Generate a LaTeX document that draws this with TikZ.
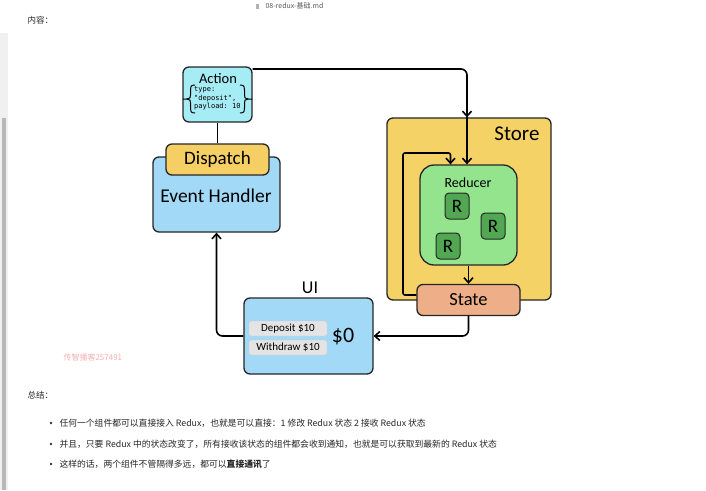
\documentclass[tikz,border=0pt]{standalone}
\usepackage{fontspec}
\setmainfont{Carlito}
\setmonofont{DejaVu Sans Mono}
\newfontfamily\cjk{Noto Sans CJK SC}
\usetikzlibrary{calc,arrows.meta}
\definecolor{actionfill}{HTML}{A6ECF5}
\definecolor{dispfill}{HTML}{F5CF63}
\definecolor{evfill}{HTML}{A2D9F7}
\definecolor{storefill}{HTML}{F5D266}
\definecolor{redfill}{HTML}{93E48D}
\definecolor{rfill}{HTML}{52A852}
\definecolor{statefill}{HTML}{EEAF88}
\definecolor{btnfill}{HTML}{E4E4E4}
\definecolor{markpink}{HTML}{F5B0B0}

\begin{document}
\begin{tikzpicture}
% one unit is one pixel of the screenshot, y runs downwards
[x=1pt,y=-1pt,
 box/.style={draw=black!85,line width=1.3pt,rounded corners=6pt,inner sep=0pt},
 flow/.style={line width=1.6pt,rounded corners=6pt,-{Straight Barb[length=5pt,width=9pt]}},
 link/.style={line width=1.6pt},
 rbox/.style={box,fill=rfill,line width=1pt,rounded corners=4pt,minimum width=24pt,minimum height=26pt,font=\fontsize{19}{19}\selectfont},
 btn/.style={draw=black!22,fill=btnfill,rounded corners=2pt,minimum width=78pt,minimum height=15pt,inner sep=0pt,font=\fontsize{11}{11}\selectfont},
 note/.style={anchor=west,font=\cjk\fontsize{8.8}{11}\selectfont,text=black!85}]
\useasboundingbox (0,0) rectangle (706,490);
\fill[white] (0,0) rectangle (706,490);
%page chrome:
\fill[black!6] (0,33) rectangle (8,490);
\fill[black!28] (2,118) rectangle (6,490);
\fill[black!30] (256,3.5) rectangle (259,8.5);
\node[anchor=west,font=\cjk\fontsize{7}{7}\selectfont,text=black!65] (fname) at (262,6) {08-redux-基础.md};
\node[anchor=west,font=\cjk\fontsize{8.5}{9}\selectfont,text=black!85] (content) at (24,20) {内容：};

%The store with its reducer:
\node[box,fill=storefill,minimum width=164pt,minimum height=182pt] (store) at (469,209) {};
\node[anchor=east,font=\fontsize{21}{21}\selectfont] (storelbl) at (543,134) {Store};
\node[box,fill=redfill,rounded corners=14pt,minimum width=97pt,minimum height=100pt] (reducer) at (468.5,215) {};
\node[font=\fontsize{14}{14}\selectfont] (redlbl) at (468,183) {Reducer};
\node[rbox] (r1) at (457,206) {R};
\node[rbox] (r2) at (493,226) {R};
\node[rbox] (r3) at (448,246) {R};
\node[box,fill=statefill,minimum width=103pt,minimum height=31pt,font=\fontsize{18.5}{18.5}\selectfont] (state) at (468.5,300) {State};

%Event handler and dispatch:
\node[box,fill=evfill,minimum width=127pt,minimum height=75pt] (handler) at (216.5,194.5) {};
\node[font=\fontsize{19.5}{19.5}\selectfont] (handlerlbl) at (216,196) {Event Handler};
\node[box,fill=dispfill,minimum width=103pt,minimum height=31pt,font=\fontsize{19}{19}\selectfont] (dispatch) at (217.5,159.5) {Dispatch};

%The action object:
\node[box,fill=actionfill,minimum width=69pt,minimum height=55pt] (action) at (217.5,94.5) {};
\node[font=\fontsize{14.5}{14.5}\selectfont] (actionlbl) at (218,79) {Action};
\node[anchor=north west,align=left,inner sep=0pt,font=\ttfamily\fontsize{7}{8.4}\selectfont] (payload) at (194,86.5) {type:\\"deposit",\\payload: 10};
\draw[line width=1pt] (195,85) .. controls (190.5,85) and (190.5,87) .. (190.5,90) -- (190.5,95) .. controls (190.5,98) .. (186.5,99) -- (183,99)
  (186.5,99) .. controls (190.5,100) .. (190.5,103) -- (190.5,108) .. controls (190.5,111) and (190.5,113) .. (195,113);
\draw[line width=1pt] (240,85) .. controls (244.5,85) and (244.5,87) .. (244.5,90) -- (244.5,95) .. controls (244.5,98) .. (248.5,99) -- (252,99)
  (248.5,99) .. controls (244.5,100) .. (244.5,103) -- (244.5,108) .. controls (244.5,111) and (244.5,113) .. (240,113);

%The UI:
\node[box,fill=evfill,minimum width=129pt,minimum height=76pt] (ui) at (308.5,336) {};
\node[font=\fontsize{18}{18}\selectfont] (uilbl) at (310,288) {UI};
\node[btn] (deposit) at (288,328.5) {Deposit \$10};
\node[btn] (withdraw) at (288,347.5) {Withdraw \$10};
\node[font=\fontsize{22}{22}\selectfont] (balance) at (343,337) {\$0};

%Connectors:
\coordinate (bend) at (467,69);
\coordinate (loop) at (403,153);
\draw[flow] (action.east |- bend) -- (bend) -- (bend |- store.north);
\draw[flow] (bend |- store.north) -- (bend |- reducer.north);
\draw[flow,rounded corners=2pt] ([yshift=5pt]state.west) -| (loop) -| ([xshift=-18pt]reducer.north);
\draw[flow] (reducer.south) -- (state.north);
\draw[flow] (state.south) |- (ui.east);
\draw[flow] (ui.west) -| (handler.south);
\draw[link] (action.south) -- (dispatch.north);

%Notes below:
\node[anchor=west,font=\cjk\fontsize{8}{8}\selectfont,text=markpink] (mark) at (60,357) {传智播客257491};
\node[anchor=west,font=\cjk\fontsize{8.5}{9}\selectfont,text=black!85] (summary) at (24,395) {总结：};
\foreach \y in {423,444,464}
  \fill[black!80] (51,\y) circle[radius=1.4pt];
\node[note] (note1) at (56,423) {任何一个组件都可以直接接入 Redux，也就是可以直接：1 修改 Redux 状态 2 接收 Redux 状态};
\node[note] (note2) at (56,444) {并且，只要 Redux 中的状态改变了，所有接收该状态的组件都会收到通知，也就是可以获取到最新的 Redux 状态};
\node[note] (note3) at (56,464) {这样的话，两个组件不管隔得多远，都可以{\bfseries 直接通讯}了};
\end{tikzpicture}
\end{document}
